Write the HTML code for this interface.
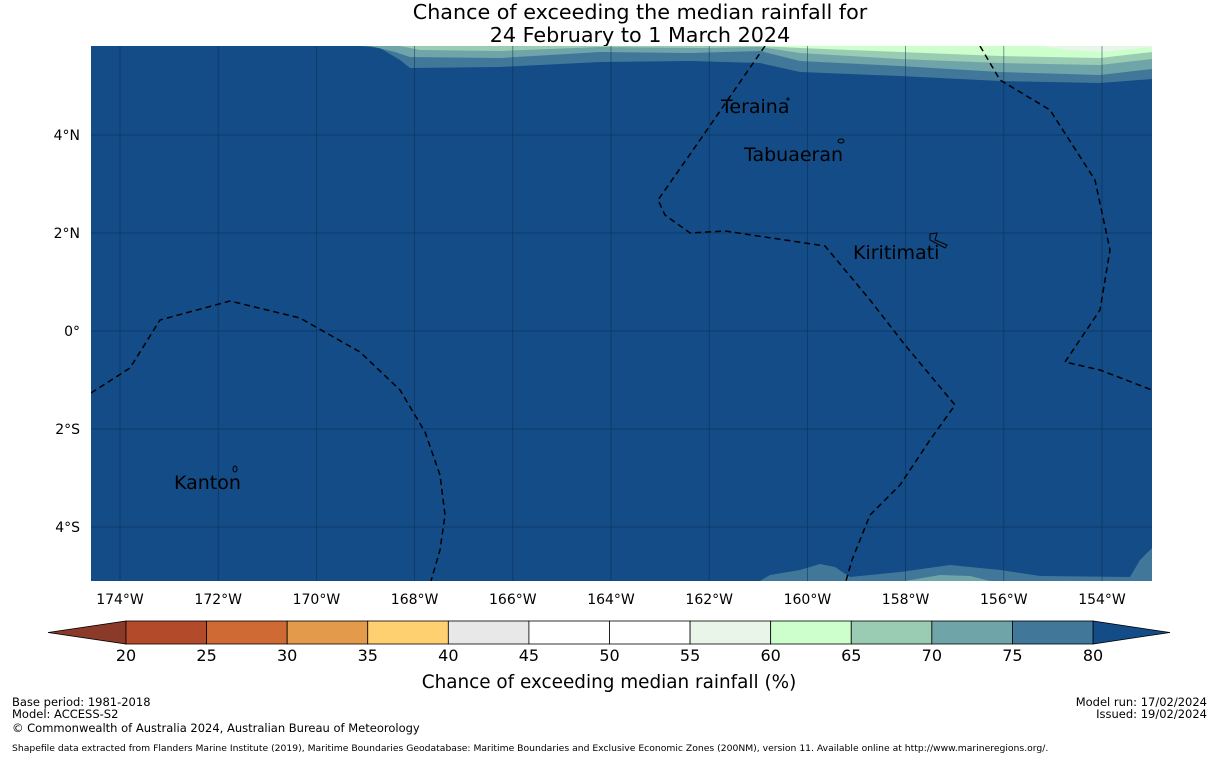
<!DOCTYPE html>
<html><head><meta charset="utf-8"><style>
body{margin:0;background:#fff;font-family:"Liberation Sans","DejaVu Sans",sans-serif}
svg text{font-family:"DejaVu Sans","Liberation Sans",sans-serif}
</style></head><body>
<svg id="s" width="1219" height="758" xmlns="http://www.w3.org/2000/svg">
<text x="640" y="19" font-size="20.7" text-anchor="middle">Chance of exceeding the median rainfall for</text>
<text x="640" y="42" font-size="20.7" text-anchor="middle">24 February to 1 March 2024</text>
<defs><clipPath id="mc"><rect x="91" y="46" width="1061" height="535"/></clipPath></defs>
<g clip-path="url(#mc)">
<rect x="91" y="46" width="1061" height="535" fill="#134c87"/>
<path d="M360,46 L380,48 L400,60 L410,68 L500,67 L600,62 L690,61 L760,63 L800,72 L900,76 L1000,81 L1100,83 L1152,79 L1152,46Z" fill="#41789a"/>
<path d="M370,46 L395,52 L410,57 L500,58 L600,52 L690,53 L760,51 L800,61 L900,66 L1000,72 L1100,75 L1152,69 L1152,46Z" fill="#6fa5a8"/>
<path d="M400,46 L420,50 L500,51 L600,47 L700,48 L760,47 L800,53 L900,59 L1000,63 L1100,65 L1152,59 L1152,46Z" fill="#99ccb3"/>
<path d="M760,46 L800,48 L900,52 L1000,56 L1100,58 L1152,52 L1152,46Z" fill="#ccffcc"/>
<path d="M1040,46 L1070,50 L1100,52 L1152,47 L1152,46Z" fill="#eaf5ea"/>
<path d="M760,581 L770,575 L800,570 L820,564 L835,567 L850,577 L900,572 L950,565 L1000,570 L1040,576 L1130,577 L1140,560 L1152,548 L1152,581Z" fill="#41789a"/>
<path d="M905,581 L940,575 L970,576 L990,581Z" fill="#6fa5a8"/>
<g id="grid" stroke="#0a2a4a" stroke-width="0.8" opacity="0.6"></g>
<g fill="none" stroke="#000" stroke-width="1.5" stroke-dasharray="6,4">
<path d="M91,393 L130,368 L160,320 L230,301 L300,318 L360,352 L400,390 L425,432 L440,475 L445,515 L440,550 L431,581"/>
<path d="M765,46 L700,140 L658,200 L665,215 L690,233 L725,231 L825,246 L870,300 L905,345 L955,405 L930,440 L900,485 L870,515 L852,560 L846,581"/>
<path d="M980,46 L1000,80 L1050,110 L1095,180 L1110,250 L1100,310 L1065,362 L1100,370 L1152,390"/>
</g>
<g fill="none" stroke="#000" stroke-width="1">
<ellipse cx="841" cy="141" rx="3" ry="2"/>
<path d="M930,234 L937,233 L935,240 L947,245 L945,248 L930,240Z"/>
<ellipse cx="235" cy="469" rx="2" ry="3"/>
<circle cx="788" cy="99" r="1"/>
</g>
<g font-size="19" fill="#000">
<text x="721" y="113">Teraina</text>
<text x="744" y="161">Tabuaeran</text>
<text x="853" y="259">Kiritimati</text>
<text x="174" y="489">Kanton</text>
</g>
</g>
<g id="ticks" font-size="14"></g>
<g id="cbar"></g>
<text x="609" y="688" font-size="18.4" text-anchor="middle">Chance of exceeding median rainfall (%)</text>
<g font-size="11.5">
<text x="12" y="706">Base period: 1981-2018</text>
<text x="12" y="718">Model: ACCESS-S2</text>
<text x="12" y="732">© Commonwealth of Australia 2024, Australian Bureau of Meteorology</text>
<text x="1207" y="706" text-anchor="end">Model run: 17/02/2024</text>
<text x="1207" y="718" text-anchor="end">Issued: 19/02/2024</text>
<text x="12" y="751" font-size="9.23">Shapefile data extracted from Flanders Marine Institute (2019), Maritime Boundaries Geodatabase: Maritime Boundaries and Exclusive Economic Zones (200NM), version 11. Available online at http://www.marineregions.org/.</text>
</g>
</svg>
<script>
const lonTicks=[-174,-172,-170,-168,-166,-164,-162,-160,-158,-156,-154];
const latTicks=[4,2,0,-2,-4];
const levels=[20,25,30,35,40,45,50,55,60,65,70,75,80];
const bandColors=["#b34a2a","#cf6a35","#e39a4a","#ffd070","#e8e8e8","#ffffff","#ffffff","#eaf5ea","#ccffcc","#99ccb3","#6fa5a8","#41789a"];
const underColor="#8b3a2a", overColor="#134c87";
const NS="http://www.w3.org/2000/svg";
const xLon=l=>120+(l+174)*49.1;
const yLat=l=>331-l*49;
const grid=document.getElementById('grid'),ticks=document.getElementById('ticks');
function mk(t,a,p){const e=document.createElementNS(NS,t);for(const k in a)e.setAttribute(k,a[k]);p.appendChild(e);return e;}
lonTicks.forEach(l=>{const x=xLon(l);
 const g=mk('line',{x1:x,x2:x,y1:46,y2:581},grid);
 
 
 const t=mk('text',{x:x,y:604,'text-anchor':'middle'},ticks);t.textContent=Math.abs(l)+'°W';
 
 });
latTicks.forEach(l=>{const y=yLat(l);
 const g=mk('line',{x1:91,x2:1152,y1:y,y2:y},grid);
 
 
 const t=mk('text',{x:80,y:y+5,'text-anchor':'end'},ticks);t.textContent=l===0?'0°':Math.abs(l)+'°'+(l>0?'N':'S');
 
 });
const cb=document.getElementById('cbar');
const x0=126,x1=1093,y0=621,y1=644;
const cx=v=>x0+(v-levels[0])/(levels[levels.length-1]-levels[0])*(x1-x0);
const u=mk('polygon',{points:`48,632.5 ${x0},${y0} ${x0},${y1}`,fill:underColor,stroke:'#000','stroke-width':0.8},cb);


const o=mk('polygon',{points:`1170,632.5 ${x1},${y0} ${x1},${y1}`,fill:overColor,stroke:'#000','stroke-width':0.8},cb);


bandColors.forEach((c,i)=>{const a=cx(levels[i]),b=cx(levels[i+1]);
 const r=mk('rect',{x:a,y:y0,width:b-a,height:y1-y0,fill:c,stroke:'#000','stroke-width':0.8},cb);
 
 });
levels.forEach(v=>{const t=mk('text',{x:cx(v),y:661,'text-anchor':'middle','font-size':16},cb);t.textContent=v;
 
 });
</script>
</body></html>
